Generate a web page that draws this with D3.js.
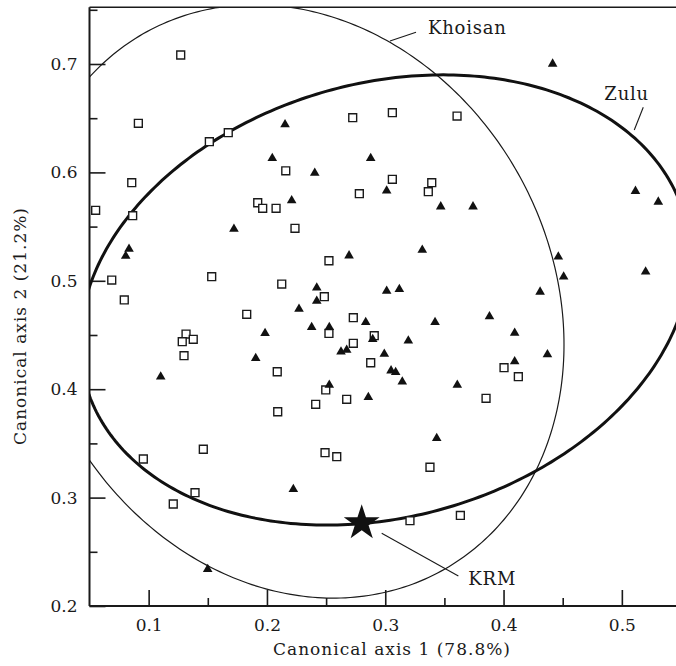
<!DOCTYPE html>
<html>
<head>
<meta charset="utf-8">
<script src="https://cdn.jsdelivr.net/npm/d3@7"></script>
<style>
  html, body { margin: 0; padding: 0; background: #fff; }
  svg text { font-family: "DejaVu Serif", "Liberation Serif", serif; fill: #1a1a1a; }
</style>
</head>
<body>
<svg id="chart" width="676" height="666"></svg>
<script>
// squares (Khoisan sample)
const khoisanPoints = [
  [0.0552,0.5650],[0.0688,0.5007],[0.0794,0.4823],[0.0865,0.5601],[0.0857,0.5905],
  [0.0913,0.6453],[0.1271,0.7083],[0.1513,0.6283],[0.1673,0.6366],[0.1533,0.5038],
  [0.1316,0.4509],[0.1284,0.4438],[0.1377,0.4460],[0.1299,0.4309],[0.0955,0.3356],
  [0.1462,0.3446],[0.1392,0.3045],[0.1208,0.2941],[0.1829,0.4691],[0.1922,0.5720],
  [0.1964,0.5669],[0.2077,0.5669],[0.2125,0.4970],[0.2159,0.6015],[0.2237,0.5484],
  [0.2087,0.4161],[0.2091,0.3792],[0.2412,0.3861],[0.2497,0.3993],[0.2524,0.5185],
  [0.2524,0.4514],[0.2485,0.4853],[0.2491,0.3414],[0.2590,0.3377],[0.2725,0.6505],
  [0.2730,0.4660],[0.2730,0.4423],[0.2781,0.5804],[0.2674,0.3907],[0.2877,0.4244],
  [0.2907,0.4494],[0.3060,0.6551],[0.3060,0.5936],[0.3209,0.2787],[0.3364,0.5822],
  [0.3393,0.5905],[0.3378,0.3280],[0.3607,0.6520],[0.3635,0.2835],[0.3852,0.3916],
  [0.4004,0.4198],[0.4125,0.4115]
]

// filled triangles (Zulu sample)
const zuluPoints = [
  [0.1499,0.2339],[0.1102,0.4115],[0.0834,0.5293],[0.0806,0.5229],[0.1721,0.5478],
  [0.1905,0.4285],[0.1984,0.4516],[0.2045,0.6130],[0.2153,0.6442],[0.2209,0.5741],
  [0.2223,0.3077],[0.2271,0.4740],[0.2378,0.4571],[0.2421,0.4936],[0.2421,0.4814],
  [0.2527,0.4571],[0.2527,0.4039],[0.2404,0.5994],[0.2626,0.4346],[0.2674,0.4362],
  [0.2694,0.5232],[0.2835,0.4617],[0.2857,0.3925],[0.2877,0.6130],[0.2894,0.4460],
  [0.2992,0.4325],[0.3012,0.5831],[0.3012,0.4906],[0.3049,0.4171],[0.3088,0.4156],
  [0.3119,0.4922],[0.3144,0.4069],[0.3195,0.4447],[0.3313,0.5284],[0.3421,0.4617],
  [0.3435,0.3547],[0.3469,0.5684],[0.3609,0.4039],[0.3742,0.5684],[0.3881,0.4670],
  [0.4094,0.4518],[0.4094,0.4256],[0.4309,0.4898],[0.4371,0.4320],[0.4415,0.7001],
  [0.4463,0.5221],[0.4508,0.5038],[0.5115,0.5827],[0.5201,0.5083],[0.5308,0.5728]
]

const krmPoint = [0.2801, 0.2765]

// ellipses: centre x, centre y, then two conjugate half-diameters (dx, dy)
const khoisanEllipse = [0.2229, 0.4810, 0.2282, -0.0399, 0, 0.2708]
const zuluEllipse = [0.2998, 0.4823, 0.2578, 0.0394, 0, 0.2039]

const xMajor = [0.1, 0.2, 0.3, 0.4, 0.5]
const xMinor = [0.15, 0.25, 0.35, 0.45, 0.55]
const yMajor = [0.2, 0.3, 0.4, 0.5, 0.6, 0.7]
const yMinor = [0.25, 0.35, 0.45, 0.55, 0.65, 0.75]

// label text, leader line start/end, label anchor
const labels = [
  {text: 'Khoisan', line: [[0.3040,0.7212],[0.3260,0.7292]], at: [0.3361,0.7274]},
  {text: 'Zulu',    line: [[0.5105,0.6391],[0.5181,0.6601]], at: [0.4852,0.6668]},
  {text: 'KRM',     line: [[0.2970,0.2671],[0.3618,0.2277]], at: [0.3702,0.2194]}
]

const svg = d3.select('#chart')

const xScale = d3.scaleLinear().domain([0.05, 0.55]).range([89.5, 681])
const yScale = d3.scaleLinear().domain([0.2, 0.7523]).range([606, 7.3])

const [x0, x1] = xScale.range()
const [y0, y1] = yScale.range()

svg.append('defs').append('clipPath').attr('id', 'plot')
   .append('rect')
   .attr('x', x0).attr('y', y1)
   .attr('width', x1 - x0).attr('height', y0 - y1)

const fmt = d3.format('.1f')

// minor ticks first
svg.append('g')
   .attr('transform', 'translate(0,' + y0 + ')')
   .call(d3.axisBottom(xScale).tickValues(xMinor).tickSize(-8).tickFormat(''))
   .call(g => g.select('.domain').remove())
svg.append('g')
   .attr('transform', 'translate(' + x0 + ',0)')
   .call(d3.axisLeft(yScale).tickValues(yMinor).tickSize(-8).tickFormat(''))
   .call(g => g.select('.domain').remove())

const xAxis = svg.append('g')
   .attr('transform', 'translate(0,' + y0 + ')')
   .call(d3.axisBottom(xScale).tickValues(xMajor).tickSize(-16).tickPadding(13).tickFormat(fmt))
xAxis.select('.domain').remove()

const yAxis = svg.append('g')
   .attr('transform', 'translate(' + x0 + ',0)')
   .call(d3.axisLeft(yScale).tickValues(yMajor).tickSize(-16).tickPadding(12).tickFormat(fmt))
yAxis.select('.domain').remove()

svg.selectAll('.tick line').attr('stroke', '#1a1a1a').attr('stroke-width', 1.6)
svg.selectAll('.tick text')
   .attr('font-family', '"DejaVu Serif", serif')
   .attr('font-size', 17)
   .attr('fill', '#1a1a1a')

// frame
svg.append('line').attr('x1', x0).attr('x2', x0).attr('y1', y1).attr('y2', y0)
   .attr('stroke', '#1a1a1a').attr('stroke-width', 2)
svg.append('line').attr('x1', x0).attr('x2', x1).attr('y1', y0).attr('y2', y0)
   .attr('stroke', '#1a1a1a').attr('stroke-width', 2)
svg.append('line').attr('x1', x0).attr('x2', x1).attr('y1', y1).attr('y2', y1)
   .attr('stroke', '#1a1a1a').attr('stroke-width', 1.5)

// axis titles
svg.append('text')
   .attr('x', 392).attr('y', 655)
   .attr('text-anchor', 'middle')
   .attr('font-size', 17)
   .attr('letter-spacing', 1)
   .text('Canonical axis 1 (78.8%)')

svg.append('text')
   .attr('transform', 'translate(26,326) rotate(-90)')
   .attr('text-anchor', 'middle')
   .attr('font-size', 17)
   .attr('letter-spacing', 1)
   .text('Canonical axis 2 (21.2%)')

// ellipses
const ellipsePts = e => d3.range(0, 360, 1).map(a => {
  const t = a * Math.PI / 180
  return [e[0] + Math.cos(t) * e[2] + Math.sin(t) * e[4],
          e[1] + Math.cos(t) * e[3] + Math.sin(t) * e[5]]
})

const line = d3.line()
   .x(d => xScale(d[0]))
   .y(d => yScale(d[1]))
   .curve(d3.curveLinearClosed)

const plot = svg.append('g').attr('clip-path', 'url(#plot)')

plot.append('path')
   .attr('d', line(ellipsePts(khoisanEllipse)))
   .attr('fill', 'none')
   .attr('stroke', '#1a1a1a')
   .attr('stroke-width', 1.2)

plot.append('path')
   .attr('d', line(ellipsePts(zuluEllipse)))
   .attr('fill', 'none')
   .attr('stroke', '#111')
   .attr('stroke-width', 3)

// points
plot.selectAll('.sq')
   .data(khoisanPoints)
   .enter()
   .append('path')
   .attr('class', 'sq')
   .attr('d', d3.symbol(d3.symbolSquare, 62))
   .attr('transform', d => 'translate(' + xScale(d[0]) + ',' + yScale(d[1]) + ')')
   .attr('fill', '#fff')
   .attr('stroke', '#1a1a1a')
   .attr('stroke-width', 1.4)

plot.selectAll('.tri')
   .data(zuluPoints)
   .enter()
   .append('path')
   .attr('class', 'tri')
   .attr('d', d3.symbol(d3.symbolTriangle, 40))
   .attr('transform', d => 'translate(' + xScale(d[0]) + ',' + yScale(d[1]) + ')')
   .attr('fill', '#111')

plot.append('path')
   .attr('d', d3.symbol(d3.symbolStar, 400))
   .attr('transform', 'translate(' + xScale(krmPoint[0]) + ',' + yScale(krmPoint[1]) + ')')
   .attr('fill', '#111')

// labels with leader lines
labels.forEach(l => {
  svg.append('line')
     .attr('x1', xScale(l.line[0][0])).attr('y1', yScale(l.line[0][1]))
     .attr('x2', xScale(l.line[1][0])).attr('y2', yScale(l.line[1][1]))
     .attr('stroke', '#1a1a1a').attr('stroke-width', 1.1)
  svg.append('text')
     .attr('x', xScale(l.at[0])).attr('y', yScale(l.at[1]))
     .attr('font-size', 18)
     .attr('letter-spacing', 0.8)
     .text(l.text)
})
</script>
</body>
</html>
